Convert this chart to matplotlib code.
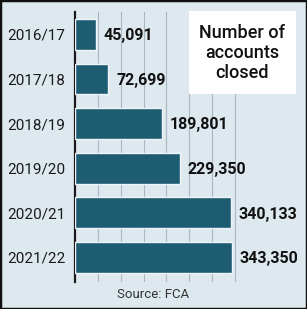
import matplotlib
matplotlib.use("Agg")
import matplotlib.pyplot as plt
from matplotlib.patches import Rectangle

# data
years = ["2016/17", "2017/18", "2018/19", "2019/20", "2020/21", "2021/22"]
closed = [45091, 72699, 189801, 229350, 340133, 343350]
grid_ticks = [50000, 100000, 150000, 200000, 250000, 300000, 350000]

title = "Number of\naccounts\nclosed"
source = "Source: FCA"

bg = "#dee9ef"
bar_col = "#1d5c71"
fam = ["Roboto", "Liberation Sans", "DejaVu Sans"]

fig = plt.figure(figsize=(3.07, 3.09), dpi=100, facecolor=bg)
ax = fig.add_axes([75 / 307, 1 - 282 / 309, 225 / 307, 270 / 309])
ax.set_facecolor(bg)

ypos = list(range(len(years)))
ax.barh(ypos, closed, height=0.69, color=bar_col, edgecolor="#eef4f7",
        linewidth=1.0, zorder=3)

for y, v in zip(ypos, closed):
    ax.text(v + 17000, y + 0.03, "{:,}".format(v), va="center", ha="left",
            fontsize=11.5, fontweight="bold", family=fam, color="#111111",
            zorder=4)

ax.set_xlim(0, 492000)
ax.set_ylim(5.55, -0.5)
ax.set_yticks(ypos)
ax.set_yticklabels(years, family=fam, fontsize=11, color="#1a1a1a")
ax.tick_params(axis="y", length=0, pad=7)
ax.set_xticks([])
for x in grid_ticks:
    ax.axvline(x, color="#a9b7c0", linewidth=0.8, zorder=1)

for s in ["top", "right", "bottom"]:
    ax.spines[s].set_visible(False)
ax.spines["left"].set_color("#1a1a1a")
ax.spines["left"].set_linewidth(1.6)

# title box
fig.patches.append(Rectangle((189 / 307, 1 - 94 / 309), 107 / 307, 83 / 309,
                             transform=fig.transFigure, facecolor="white",
                             edgecolor="none", zorder=5))
fig.text(242 / 307, 1 - 53 / 309, title, ha="center", va="center",
         fontsize=13, fontweight="medium", family=fam, color="#111111",
         linespacing=1.15, zorder=6)

fig.text(153 / 307, 1 - 295 / 309, source, ha="center", va="center",
         fontsize=9.5, family=fam, color="#333333")

# outer frame
fig.patches.append(Rectangle((0, 0), 1, 1, transform=fig.transFigure,
                             facecolor="none", edgecolor="#111111",
                             linewidth=2.5, zorder=10))

fig.savefig("out.png", dpi=100, facecolor=bg)
